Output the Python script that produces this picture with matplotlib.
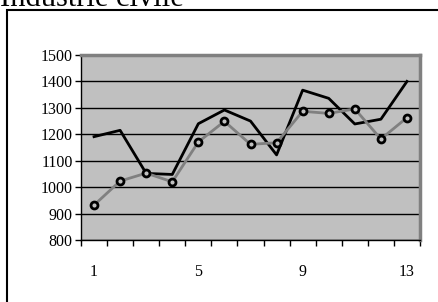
import matplotlib.pyplot as plt
import matplotlib.patches as patches
import numpy as np

plt.rcParams["font.family"] = ["Liberation Serif", "DejaVu Serif"]

months = list(range(1, 14))
serie_noire = [1191, 1215, 1052, 1048, 1240, 1292, 1250, 1122, 1367, 1336, 1239, 1257, 1400]
serie_grise = [932, 1023, 1053, 1020, 1171, 1249, 1162, 1168, 1287, 1279, 1296, 1182, 1263]
tick_labels = ["1", "5", "9", "13"]

fig = plt.figure(figsize=(4.38, 3.02), dpi=100)

# outer chart frame (runs off the page on right and bottom)
frame = patches.Rectangle((7 / 438, -0.2), 1.2, 1 - 10.5 / 302 + 0.2,
                          transform=fig.transFigure, linewidth=1.5,
                          edgecolor="black", facecolor="none")
fig.patches.append(frame)

fig.text(0, 1 - 6 / 302, "Industrie civile", fontsize=22, ha="left",
         va="baseline")

ax = fig.add_axes([81 / 438, 1 - 240 / 302, (420 - 81) / 438, (240 - 55) / 302])
ax.set_facecolor("#c0c0c0")

ax.plot(months, serie_noire, color="black", lw=2, zorder=3)
ax.plot(months, serie_grise, color="#808080", lw=2, marker="o", ms=5,
        mfc="#c0c0c0", mec="black", mew=2, zorder=3)

ax.set_xlim(0.5, 13.5)
ax.set_ylim(800, 1500)
ax.set_yticks(np.arange(800, 1501, 100))
ax.yaxis.grid(True, color="black", lw=1)
ax.set_axisbelow(True)

ax.set_xticks(np.arange(0.5, 13.6, 1))
ax.set_xticklabels([])
ax.set_xticks([1, 5, 9, 13], minor=True)
ax.set_xticklabels(tick_labels, minor=True)
ax.tick_params(axis="x", which="major", direction="out", length=4, width=1)
ax.tick_params(axis="x", which="minor", length=0, pad=17, labelsize=11.5)
ax.tick_params(axis="y", direction="out", length=4, width=1, labelsize=11.5, pad=2)

for side in ["top", "right"]:
    ax.spines[side].set_color("#808080")
    ax.spines[side].set_linewidth(2.5)
for side in ["left", "bottom"]:
    ax.spines[side].set_color("black")
    ax.spines[side].set_linewidth(1)

plt.savefig("out.png", dpi=100)
